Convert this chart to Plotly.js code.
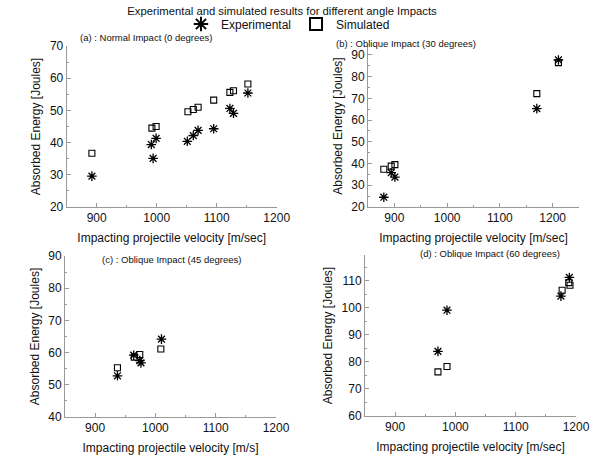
<!DOCTYPE html>
<html>
<head>
<meta charset="utf-8">
<script src="https://cdn.plot.ly/plotly-3.0.1.min.js"></script>
<style>html,body{margin:0;padding:0;background:#fff}#chart{width:601px;height:460px}</style>
</head>
<body>
<div id="chart"></div>
<script>
// (a) Normal impact (0 degrees)
const velA_exp = [892, 991, 994, 999, 1051, 1061, 1069, 1095, 1122, 1128, 1152];
const enA_exp  = [29.6, 39.4, 35.1, 41.3, 40.4, 42.2, 43.8, 44.3, 50.6, 49.1, 55.4];
const velA_sim = [892, 992, 999, 1052, 1061, 1069, 1095, 1122, 1128, 1152];
const enA_sim  = [36.7, 44.5, 45.0, 49.6, 50.3, 51.0, 53.2, 55.6, 56.1, 58.2];
// (b) Oblique impact (30 degrees)
const velB_exp = [880, 894, 901, 1170, 1211];
const enB_exp  = [24.5, 35.8, 33.8, 65.3, 87.7];
const velB_sim = [880, 894, 901, 1170, 1211];
const enB_sim  = [37.4, 38.8, 39.5, 72.2, 86.5];
// (c) Oblique impact (45 degrees)
const velC_exp = [937, 964, 974, 976, 1010];
const enC_exp  = [52.8, 59.2, 57.5, 56.8, 64.2];
const velC_sim = [937, 965, 974, 1009];
const enC_sim  = [55.3, 58.6, 59.4, 61.1];
// (d) Oblique impact (60 degrees)
const velD_exp = [971, 986, 1175, 1189];
const enD_exp  = [83.9, 99.1, 104.3, 111.2];
const velD_sim = [971, 986, 1177, 1188, 1190];
const enD_sim  = [76.3, 78.3, 106.5, 109.3, 108.3];

const seriesNames = ["Experimental", "Simulated"];
const panelTitles = ["(a) : Normal Impact (0 degrees)", "(b) : Oblique Impact (30 degrees)",
                     "(c) : Oblique Impact (45 degrees)", "(d) : Oblique Impact (60 degrees)"];
const xTitles = ["Impacting projectile velocity [m/sec]", "Impacting projectile velocity [m/sec]",
                 "Impacting projectile velocity [m/s]", "Impacting projectile velocity [m/sec]"];
const yTitle = "Absorbed Energy [Joules]";
const mainTitle = "Experimental and simulated results for different angle Impacts";

const FONT = "Arial, 'Liberation Sans', sans-serif";
const W = 601, H = 460;
const expMarker = {symbol: "asterisk-open", size: 8, color: "#000", line: {color: "#000", width: 1.3}};
const simMarker = {symbol: "square-open", size: 6, color: "#000", line: {color: "#000", width: 1.1}};

const panels = [
  {xe: velA_exp, ye: enA_exp, xs: velA_sim, ys: enA_sim},
  {xe: velB_exp, ye: enB_exp, xs: velB_sim, ys: enB_sim},
  {xe: velC_exp, ye: enC_exp, xs: velC_sim, ys: enC_sim},
  {xe: velD_exp, ye: enD_exp, xs: velD_sim, ys: enD_sim}
];
const data = [];
panels.forEach((p, i) => {
  const sfx = i === 0 ? "" : String(i + 1);
  data.push({x: p.xe, y: p.ye, type: "scatter", mode: "markers", name: seriesNames[0],
             marker: expMarker, xaxis: "x" + sfx, yaxis: "y" + sfx, showlegend: i === 0});
  data.push({x: p.xs, y: p.ys, type: "scatter", mode: "markers", name: seriesNames[1],
             marker: simMarker, xaxis: "x" + sfx, yaxis: "y" + sfx, showlegend: i === 0});
});

// pixel boxes [left, right, top, bottom]
const boxes = [[66.7, 276.7, 46, 207], [368, 579, 45, 207], [65, 276, 256, 417], [365, 576, 255, 416]];
const xRanges = [[850, 1200], [850, 1250], [850, 1200], [850, 1200]];
const yRanges = [[20, 70], [20, 94.6], [40, 90], [60, 119.5]];

function xAxis(i) {
  const b = boxes[i];
  return {
    domain: [b[0] / W, b[1] / W], range: xRanges[i], anchor: "y" + (i === 0 ? "" : i + 1),
    showline: true, linecolor: "#9a9a9a", linewidth: 1, showgrid: false, zeroline: false,
    ticks: "inside", ticklen: 4, tickcolor: "#9a9a9a", dtick: 100, tick0: 900,
    minor: {ticks: "inside", ticklen: 2, tickcolor: "#9a9a9a", dtick: 50},
    tickfont: {family: FONT, size: 12, color: "#111"},
    title: {text: xTitles[i], font: {family: FONT, size: 12, color: "#111"}, standoff: 9}
  };
}
function yAxis(i) {
  const b = boxes[i];
  return {
    domain: [1 - b[3] / H, 1 - b[2] / H], range: yRanges[i], anchor: "x" + (i === 0 ? "" : i + 1),
    showline: true, linecolor: "#9a9a9a", linewidth: 1, showgrid: false, zeroline: false,
    ticks: "inside", ticklen: 4, tickcolor: "#9a9a9a", dtick: 10, tick0: 0,
    minor: {ticks: "inside", ticklen: 2, tickcolor: "#9a9a9a", dtick: 5},
    tickfont: {family: FONT, size: 12, color: "#111"},
    title: {text: yTitle, font: {family: FONT, size: 12, color: "#111"}, standoff: 6}
  };
}

const titlePos = [[146, 38], [406, 43], [171, 259], [490, 253]];
const annotations = panelTitles.map((t, i) => ({
  text: t, xref: "paper", yref: "paper", x: titlePos[i][0] / W, y: 1 - titlePos[i][1] / H,
  xanchor: "center", yanchor: "middle", showarrow: false,
  font: {family: FONT, size: 9.5, color: "#111"}
}));

const layout = {
  width: W, height: H, paper_bgcolor: "#fff", plot_bgcolor: "#fff",
  margin: {l: 0, r: 0, t: 0, b: 0},
  font: {family: FONT, color: "#111"},
  title: {text: mainTitle, x: 282 / W, xanchor: "center", y: 1 - 11 / H, yanchor: "middle",
          font: {family: FONT, size: 11.3, color: "#111"}},
  showlegend: true,
  legend: {orientation: "h", x: 288 / W, xanchor: "center", y: 1 - 24 / H, yanchor: "middle",
           font: {family: FONT, size: 12, color: "#111"}, itemsizing: "constant",
           bgcolor: "rgba(0,0,0,0)", tracegroupgap: 0, itemwidth: 30},
  annotations: annotations
};
for (let i = 0; i < 4; i++) {
  const sfx = i === 0 ? "" : String(i + 1);
  layout["xaxis" + sfx] = xAxis(i);
  layout["yaxis" + sfx] = yAxis(i);
}
Plotly.newPlot("chart", data, layout, {displayModeBar: false, staticPlot: true});
</script>
</body>
</html>
